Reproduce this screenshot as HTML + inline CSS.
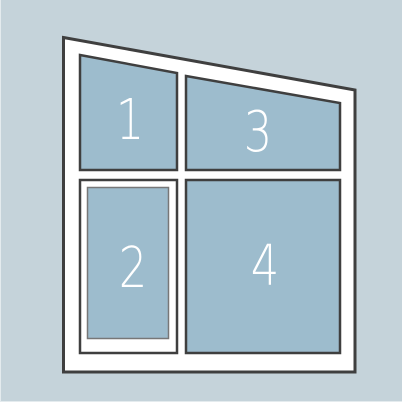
<!DOCTYPE html>
<html><head><meta charset="utf-8"><style>
html,body{margin:0;padding:0;background:#c5d3da;}
svg{display:block}
text{font-family:"DejaVu Sans","Liberation Sans",sans-serif;font-weight:200;fill:#fff;text-anchor:middle}
</style></head><body>
<svg width="402" height="402" viewBox="0 0 402 402">
<rect x="0" y="0" width="402" height="402" fill="#c5d3da"/>
<line x1="0.5" y1="0" x2="0.5" y2="402" stroke="#e4ebee" stroke-width="1"/>
<line x1="0" y1="401.5" x2="402" y2="401.5" stroke="#e4ebee" stroke-width="1"/>
<polygon points="63.5,37.5 355,90 355,372 63.5,372" fill="#fff" stroke="#3f3f3f" stroke-width="3"/>
<polygon points="80,55 177,73 177,170 80,170" fill="#9dbccd" stroke="#3f3f3f" stroke-width="2.5"/>
<polygon points="186,76 340,103 340,170 186,170" fill="#9dbccd" stroke="#3f3f3f" stroke-width="2.5"/>
<rect x="80" y="180" width="97" height="173" fill="#fff" stroke="#3f3f3f" stroke-width="2.5"/>
<rect x="87.5" y="187.5" width="81" height="151" fill="#9dbccd" stroke="#777" stroke-width="1.5"/>
<rect x="186" y="180" width="154" height="173" fill="#9dbccd" stroke="#3f3f3f" stroke-width="2.5"/>
<text transform="translate(130,139) scale(0.8,1)" font-size="56">1</text>
<text transform="translate(258,151) scale(0.8,1)" font-size="56">3</text>
<text transform="translate(133,287) scale(0.8,1)" font-size="56">2</text>
<text transform="translate(265,285) scale(0.8,1)" font-size="56">4</text>
</svg>
</body></html>
